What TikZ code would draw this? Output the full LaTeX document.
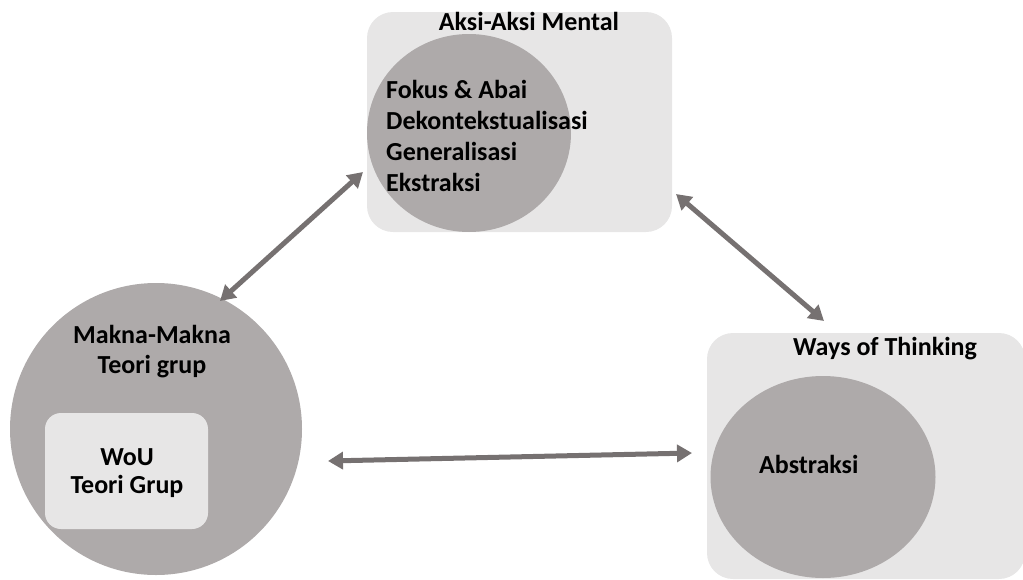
\documentclass[tikz,border=0pt]{standalone}
\usepackage{fontspec}
\setmainfont{Carlito}
\usetikzlibrary{arrows.meta,shapes.geometric}
\definecolor{panel}{HTML}{E7E6E6}
\definecolor{disc}{HTML}{AEAAAA}
\definecolor{linkgray}{HTML}{767171}
\tikzset{
  panelbox/.style={fill=panel,draw=none,rounded corners=#1,inner sep=0pt,outer sep=0pt},
  panelbox/.default=26pt,
  discshape/.style={ellipse,fill=disc,draw=none,inner sep=0pt,outer sep=0pt},
  lbl/.style={font=\fontsize{26}{31}\selectfont\bfseries,inner sep=0pt,text=black},
  link/.style={draw=linkgray,line width=5pt,{Triangle[length=15pt,width=17pt]}-{Triangle[length=15pt,width=17pt]}},
}
\begin{document}
\begin{tikzpicture}[x=1pt,y=-1pt]
\useasboundingbox (0,0) rectangle (1023,579);

% top panel: mental actions
\node[panelbox,minimum width=305pt,minimum height=220pt] (mentalbox) at (519.5,122) {};
\node[discshape,minimum width=204pt,minimum height=198pt] (mentaldisc) at (469,133) {};
\node[lbl,anchor=base] (mentaltitle) at (529,30) {Aksi-Aksi Mental};
\node[lbl,anchor=base west] (l1) at (386,98) {Fokus \& Abai};
\node[lbl,anchor=base west] (l2) at (386,129) {Dekontekstualisasi};
\node[lbl,anchor=base west] (l3) at (386,160) {Generalisasi};
\node[lbl,anchor=base west] (l4) at (386,191) {Ekstraksi};

% left disc: meanings of group theory
\node[discshape,minimum width=292pt,minimum height=292pt] (meaningdisc) at (156,429) {};
\node[panelbox=16pt,minimum width=163pt,minimum height=116pt] (woubox) at (126.5,471) {};
\node[lbl,anchor=base] (m1) at (152,343) {Makna-Makna};
\node[lbl,anchor=base] (m2) at (152,373) {Teori grup};
\node[lbl,anchor=base] (w1) at (127,465) {WoU};
\node[lbl,anchor=base] (w2) at (127,493) {Teori Grup};

% right panel: ways of thinking
\node[panelbox,minimum width=318pt,minimum height=246pt] (thinkbox) at (866,456) {};
\node[discshape,minimum width=225pt,minimum height=202pt] (thinkdisc) at (823,477) {};
\node[lbl,anchor=base] (thinktitle) at (885,355) {Ways of Thinking};
\node[lbl,anchor=base west] (abs) at (759,473) {Abstraksi};

% arrow end points
\coordinate (a1s) at (220,301);
\coordinate (a1e) at (363,172);
\coordinate (a2s) at (676,194);
\coordinate (a2e) at (824,321);
\coordinate (a3s) at (328,461);
\coordinate (a3e) at (692,453);

\draw[link] (a1s) -- (a1e);
\draw[link] (a2s) -- (a2e);
\draw[link] (a3s) -- (a3e);
\end{tikzpicture}
\end{document}
